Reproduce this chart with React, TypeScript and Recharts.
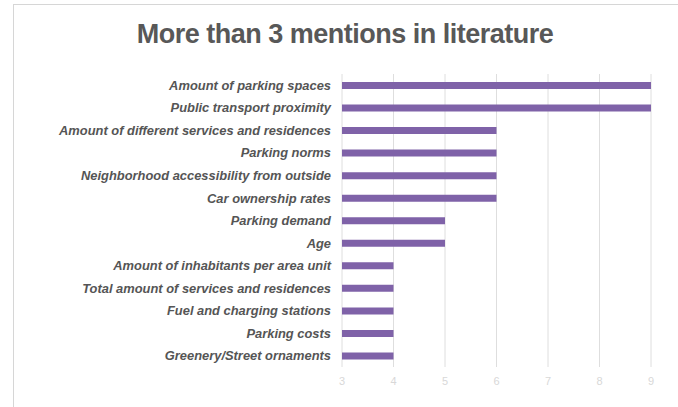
import { Bar, BarChart, CartesianGrid, XAxis, YAxis } from "recharts";

const factors = [
  "Amount of parking spaces",
  "Public transport proximity",
  "Amount of different services and residences",
  "Parking norms",
  "Neighborhood accessibility from outside",
  "Car ownership rates",
  "Parking demand",
  "Age",
  "Amount of inhabitants per area unit",
  "Total amount of services and residences",
  "Fuel and charging stations",
  "Parking costs",
  "Greenery/Street ornaments",
];

const mentions = [9, 9, 6, 6, 6, 6, 5, 5, 4, 4, 4, 4, 4];

const xTicks = [3, 4, 5, 6, 7, 8, 9];

const data = factors.map((name, i) => ({ name, mentions: mentions[i] }));

const App = () => {
  return (
    <div
      style={{
        position: "absolute",
        left: 0,
        top: 0,
        width: 678,
        height: 407,
        background: "#fff",
        overflow: "hidden",
        fontFamily: "'Liberation Sans', Arial, sans-serif",
      }}
    >
      {/* frame lines */}
      <div
        style={{
          position: "absolute",
          left: 13,
          top: 4,
          width: 700,
          height: 500,
          borderTop: "1px solid #d6d6d6",
          borderLeft: "1px solid #d6d6d6",
        }}
      />
      <div
        style={{
          position: "absolute",
          left: 13,
          width: 664,
          top: 19,
          textAlign: "center",
          fontSize: 27,
          fontWeight: "bold",
          color: "#585858",
          letterSpacing: -0.5,
        }}
      >
        More than 3 mentions in literature
      </div>
      <div style={{ position: "absolute", left: 0, top: 0 }}>
        <BarChart
          width={678}
          height={407}
          data={data}
          layout="vertical"
          margin={{ top: 74, right: 27, left: 0, bottom: 10 }}
          barCategoryGap={0}
        >
          <CartesianGrid horizontal={false} stroke="#dedede" />
          <XAxis
            type="number"
            domain={[3, 9]}
            ticks={xTicks}
            axisLine={false}
            tickLine={false}
            tick={{ fill: "#d8d8d8", fontSize: 11 }}
            tickMargin={4}
            height={30}
          />
          <YAxis
            type="category"
            dataKey="name"
            width={342}
            axisLine={false}
            tickLine={false}
            tickSize={0}
            tickMargin={11}
            interval={0}
            tick={{
              fill: "#555",
              fontSize: 12.9,
              fontWeight: "bold",
              fontStyle: "italic",
            }}
          />
          <Bar
            dataKey="mentions"
            fill="#7f62a8"
            barSize={7}
            isAnimationActive={false}
          />
        </BarChart>
      </div>
    </div>
  );
};

export default App;
